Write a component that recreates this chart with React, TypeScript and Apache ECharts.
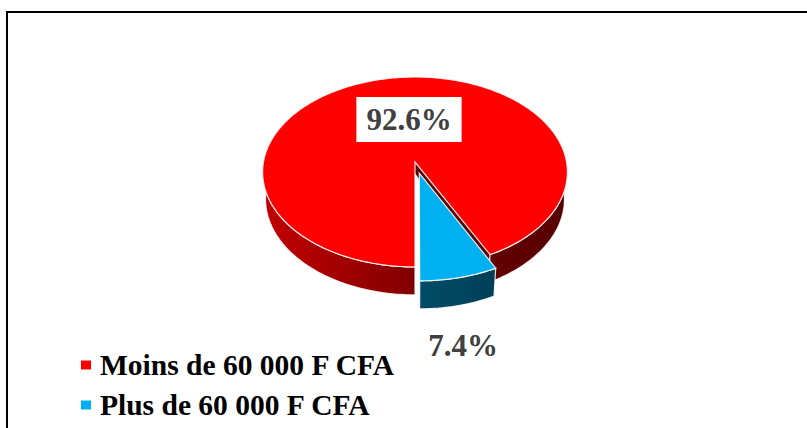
import React, { useEffect, useRef } from 'react';
import * as echarts from 'echarts';

// ---- data ----
const CATEGORIES = ['Moins de 60 000 F CFA', 'Plus de 60 000 F CFA'];
const VALUES = [92.6, 7.4];

// ---- styles / layout ----
const EXPLODE = [0, 0.12];
const TOP_COLORS = ['#FF0000', '#00B0F0'];
const CUT_COLORS = ['#5c0000', '#003a52'];
const LABEL_POS = [
  [409, 119.5],
  [463, 345],
];
const FONT = '"Liberation Serif", "Times New Roman", serif';

// projection of a tilted 3D disc (perspective)
const CX = 415;
const CY = 162;
const K = 1132;
const DIST = 7.47;
const TILT = (38.3 * Math.PI) / 180;
const THICK = 0.232;
const SN = Math.sin(TILT);
const CS = Math.cos(TILT);

function project(X: number, Y: number, Z: number): number[] {
  const depth = DIST - Y * SN - Z * CS;
  const up = Y * CS - Z * SN;
  return [CX + (K * X) / depth, CY - (K * up) / depth];
}

function rimPoint(phiDeg: number, off: number[], Y: number): number[] {
  const p = (phiDeg * Math.PI) / 180;
  return project(-Math.sin(p) + off[0], Y, Math.cos(p) + off[1]);
}

function wallFill(i: number) {
  if (i === 0) {
    return new echarts.graphic.LinearGradient(
      CX - 155,
      0,
      CX + 155,
      0,
      [
        { offset: 0, color: '#c40000' },
        { offset: 0.45, color: '#880000' },
        { offset: 0.6, color: '#6a0000' },
        { offset: 1, color: '#560000' },
      ],
      true
    );
  }
  return new echarts.graphic.LinearGradient(
    CX,
    0,
    CX + 85,
    0,
    [
      { offset: 0, color: '#014d68' },
      { offset: 1, color: '#003e56' },
    ],
    true
  );
}

function makeRenderItem(index: number) {
  return (params: any, api: any) => {
    const total = VALUES.reduce((a, b) => a + b, 0);
    let cum = 0;
    for (let j = 0; j < index; j++) cum += VALUES[j];
    const v = api.value(0);
    const a0 = (360 * cum) / total;
    const a1 = a0 + (360 * v) / total;
    const mid = ((a0 + a1) / 2) * (Math.PI / 180);
    const e = EXPLODE[index];
    const off = [-Math.sin(mid) * e, Math.cos(mid) * e];
    const centerTop = project(off[0], 0, off[1]);
    const centerLow = project(off[0], -THICK * 0.4, off[1]);

    const angles: number[] = [];
    const steps = Math.max(2, Math.ceil(a1 - a0));
    for (let s = 0; s <= steps; s++) angles.push(a0 + ((a1 - a0) * s) / steps);

    const children: any[] = [];
    const edge = { stroke: 'rgba(255,255,255,0.85)', lineWidth: 1.2 };

    // cut faces
    const camZ = DIST * CS;
    const faceVisible = (phi: number, isEnd: boolean) => {
      const p = (phi * Math.PI) / 180;
      const n = isEnd ? [-Math.cos(p), -Math.sin(p)] : [Math.cos(p), Math.sin(p)];
      return n[0] * (0 - off[0]) + n[1] * (camZ - off[1]) > 0.05;
    };
    [
      [a0, false],
      [a1, true],
    ].forEach(([phi, isEnd]: any) => {
      if (!faceVisible(phi, isEnd)) return;
      const pt = rimPoint(phi, off, 0);
      const pb = rimPoint(phi, off, -THICK);
      children.push({
        type: 'polygon',
        shape: { points: [centerTop, pt, pb, centerLow] },
        style: { fill: CUT_COLORS[index], stroke: 'none' },
      });
    });

    // outer walls (front-facing parts)
    const vis = (phi: number) => Math.cos((phi * Math.PI) / 180) > -0.08;
    let run: number[] = [];
    const flush = () => {
      if (run.length > 1) {
        const top = run.map((p) => rimPoint(p, off, 0));
        const bot = run.map((p) => rimPoint(p, off, -THICK)).reverse();
        children.push({
          type: 'polygon',
          shape: { points: top.concat(bot) },
          style: { fill: wallFill(index), ...edge },
        });
      }
      run = [];
    };
    angles.forEach((phi) => {
      if (vis(phi)) run.push(phi);
      else flush();
    });
    flush();

    // top face
    const topPts = [centerTop].concat(angles.map((p) => rimPoint(p, off, 0)));
    children.push({
      type: 'polygon',
      shape: { points: topPts },
      style: { fill: TOP_COLORS[index], ...edge },
    });

    // data label
    const lp = LABEL_POS[index];
    children.push({
      type: 'text',
      style: {
        text: `${v.toFixed(1)}%`,
        x: lp[0],
        y: lp[1],
        align: 'center',
        verticalAlign: 'middle',
        fill: '#404040',
        font: `bold 31px ${FONT}`,
        lineHeight: 35,
        backgroundColor: index === 0 ? '#ffffff' : undefined,
        padding: index === 0 ? [5, 10, 5, 10] : 0,
      },
    });

    return { type: 'group', children };
  };
}

export default function App() {
  const ref = useRef<HTMLDivElement>(null);
  useEffect(() => {
    if (!ref.current) return;
    const chart = echarts.init(ref.current, undefined, { renderer: 'svg' });
    chart.setOption({
      animation: false,
      backgroundColor: '#ffffff',
      graphic: [
        {
          type: 'rect',
          silent: true,
          shape: { x: 7, y: 12, width: 1000, height: 1000 },
          style: { fill: 'none', stroke: '#000000', lineWidth: 2 },
        },
      ],
      legend: {
        orient: 'vertical',
        left: 81,
        top: 350,
        padding: 0,
        itemGap: 10,
        itemWidth: 10,
        itemHeight: 9,
        icon: 'rect',
        selectedMode: false,
        data: CATEGORIES.map((name, i) => ({ name, itemStyle: { color: TOP_COLORS[i] } })),
        textStyle: {
          fontFamily: FONT,
          fontWeight: 'bold',
          fontSize: 29.5,
          lineHeight: 30,
          color: '#000000',
          padding: [0, 0, 0, 4],
        },
      },
      series: CATEGORIES.map((name, i) => ({
        type: 'custom',
        name,
        coordinateSystem: 'none',
        itemStyle: { color: TOP_COLORS[i] },
        data: [[VALUES[i]]],
        renderItem: makeRenderItem(i),
      })),
    });
    return () => chart.dispose();
  }, []);
  return (
    <div
      ref={ref}
      style={{ position: 'fixed', left: 0, top: 0, width: 807, height: 428 }}
    />
  );
}
